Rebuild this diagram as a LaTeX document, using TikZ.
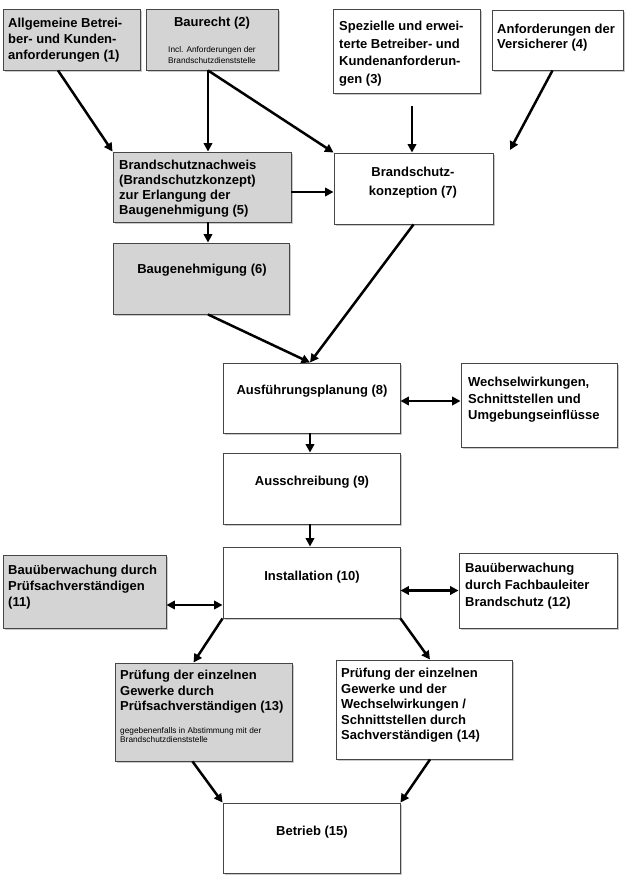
\documentclass[tikz,border=0pt]{standalone}
\usepackage{fontspec}
\setmainfont{Liberation Sans}
\usetikzlibrary{arrows.meta,shadows}
\definecolor{boxgray}{RGB}{212,212,212}
\definecolor{edgegray}{RGB}{70,70,70}
\tikzset{
  box/.style={rectangle, draw=edgegray, line width=0.9pt, fill=white, inner sep=0pt,
    drop shadow={shadow xshift=2pt, shadow yshift=-2pt, opacity=0.35, fill=black!60}},
  graybox/.style={box, fill=boxgray},
  lbl/.style={inner sep=0pt, align=left, anchor=north west, font=\fontsize{13}{16}\selectfont\bfseries},
  clbl/.style={inner sep=0pt, align=center, anchor=center, font=\fontsize{13}{16}\selectfont\bfseries},
  small/.style={inner sep=0pt, align=center, anchor=center, font=\fontsize{8.3}{11.5}\selectfont},
  arr/.style={line width=2.5pt, -{Triangle[length=8.5pt,width=8.5pt]}},
  darr/.style={line width=2.5pt, {Triangle[length=8.5pt,width=8.5pt]}-{Triangle[length=8.5pt,width=8.5pt]}}
}
\begin{document}
\begin{tikzpicture}[x=1pt,y=-1pt]
\useasboundingbox (0,0) rectangle (633,882);
% boxes
\node[graybox, minimum width=137pt, minimum height=61pt] (b1) at (71.5,39.5) {};
\node[graybox, minimum width=132pt, minimum height=61pt] (b2) at (212,39.5) {};
\node[box, minimum width=147pt, minimum height=84pt] (b3) at (406.5,51) {};
\node[box, minimum width=131pt, minimum height=60pt] (b4) at (557.5,40) {};
\node[graybox, minimum width=178pt, minimum height=70pt] (b5) at (202,187) {};
\node[box, minimum width=159pt, minimum height=71pt] (b7) at (413.5,188.5) {};
\node[graybox, minimum width=176pt, minimum height=71pt] (b6) at (201,278.5) {};
\node[box, minimum width=177pt, minimum height=70pt] (b8) at (311.5,398) {};
\node[box, minimum width=156pt, minimum height=84pt] (bW) at (539,405) {};
\node[box, minimum width=177pt, minimum height=71pt] (b9) at (311.5,488.5) {};
\node[box, minimum width=177pt, minimum height=71pt] (b10) at (311.5,582.5) {};
\node[graybox, minimum width=163pt, minimum height=73pt] (b11) at (84.5,591.5) {};
\node[box, minimum width=158pt, minimum height=75pt] (b12) at (538,590.5) {};
\node[graybox, minimum width=177pt, minimum height=98pt] (b13) at (203.5,712) {};
\node[box, minimum width=176pt, minimum height=99pt] (b14) at (424,709.5) {};
\node[box, minimum width=177pt, minimum height=70pt] (b15) at (311.5,838) {};
% texts
\node[lbl] (t1) at (8,18) {Allgemeine Betrei-\\ber- und Kunden-\\anforderungen (1)};
\node[clbl] (t2) at (212,23) {Baurecht (2)};
\node[small] (t2s) at (212,55) {Incl. Anforderungen der\\Brandschutzdienststelle};
\node[lbl, font=\fontsize{13}{17.5}\selectfont\bfseries] (t3) at (339,21) {Spezielle und erwei-\\terte Betreiber- und\\Kundenanforderun-\\gen (3)};
\node[lbl, font=\fontsize{13}{15}\selectfont\bfseries] (t4) at (497,24) {Anforderungen der\\Versicherer (4)};
\node[lbl, font=\fontsize{13}{15}\selectfont\bfseries] (t5) at (119,160) {Brandschutznachweis\\(Brandschutzkonzept)\\zur Erlangung der\\Baugenehmigung (5)};
\node[clbl, font=\fontsize{13}{19}\selectfont\bfseries] (t7) at (413,182.5) {Brandschutz-\\konzeption (7)};
\node[clbl] (t6) at (202,270) {Baugenehmigung (6)};
\node[clbl] (t8) at (312,391) {Ausführungsplanung (8)};
\node[lbl, font=\fontsize{13}{16.5}\selectfont\bfseries] (tW) at (468,377) {Wechselwirkungen,\\Schnittstellen und\\Umgebungseinflüsse};
\node[clbl] (t9) at (312,482) {Ausschreibung (9)};
\node[clbl] (t10) at (312,577) {Installation (10)};
\node[lbl] (t11) at (8,565) {Bauüberwachung durch\\Prüfsachverständigen\\(11)};
\node[lbl, font=\fontsize{13}{17}\selectfont\bfseries] (t12) at (465,563) {Bauüberwachung\\durch Fachbauleiter\\Brandschutz (12)};
\node[lbl, font=\fontsize{13}{15.5}\selectfont\bfseries] (t13) at (120,670) {Prüfung der einzelnen\\Gewerke durch\\Prüfsachverständigen (13)};
\node[lbl, inner sep=0pt, font=\fontsize{8.3}{9}\selectfont] (t13s) at (120,727) {gegebenenfalls in Abstimmung mit der\\Brandschutzdienststelle};
\node[lbl, font=\fontsize{13}{15.5}\selectfont\bfseries] (t14) at (341,668) {Prüfung der einzelnen\\Gewerke und der\\Wechselwirkungen /\\Schnittstellen durch\\Sachverständigen (14)};
\node[clbl] (t15) at (312,832) {Betrieb (15)};
% free ends
\coordinate (c3) at (412,106);
\coordinate (c4) at (510,150);
% connectors
\draw[arr] ([xshift=-13.5pt]b1.south) -- (b5.north west);
\draw[arr] ([xshift=-4pt]b2.south) -- ([xshift=-4pt]b2.south |- b5.north);
\draw[arr] ([xshift=-4pt]b2.south) -- (b7.north west);
\draw[arr] (c3) -- (c3 |- b7.north);
\draw[arr] ([xshift=-5pt]b4.south) -- (c4);
\draw[arr] ([yshift=-5pt]b5.east) -- ([yshift=-5pt]b5.east -| b7.west);
\draw[arr] ([xshift=6pt]b5.south) -- ([xshift=6pt]b5.south |- b6.north);
\draw[arr] ([xshift=7pt]b6.south) -- ([xshift=-1.5pt]b8.north);
\draw[arr] (b7.south) -- ([xshift=-1.5pt]b8.north);
\draw[darr] ([yshift=-3pt]b8.east) -- ([yshift=-3pt]b8.east -| bW.west);
\draw[arr] ([xshift=-1.5pt]b8.south) -- ([xshift=-1.5pt]b9.north);
\draw[arr] ([xshift=-1.5pt]b9.south) -- ([xshift=-1.5pt]b10.north);
\draw[darr] ([yshift=-13.5pt]b11.east) -- ([yshift=-13.5pt]b11.east -| b10.west);
\draw[darr] (b10.east |- b12.west) -- (b12.west);
\draw[arr] (b10.south west) -- ([xshift=-10pt]b13.north);
\draw[arr] (b10.south east) -- ([xshift=6pt]b14.north);
\draw[arr] ([xshift=-11pt]b13.south) -- (b15.north west);
\draw[arr] ([xshift=6pt]b14.south) -- (b15.north east);
\end{tikzpicture}
\end{document}
